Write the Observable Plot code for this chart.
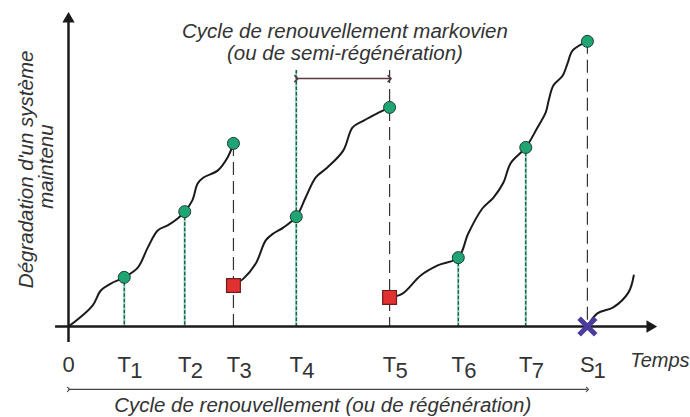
<!DOCTYPE html>
<html><head><meta charset="utf-8">
<script src="https://cdn.jsdelivr.net/npm/d3@7"></script>
<script src="https://cdn.jsdelivr.net/npm/@observablehq/plot@0.6"></script>
<style>body{margin:0;background:#fff}</style>
</head><body><div id="chart"></div>
<script>
// Inspection instants (time units) and tick labels
const tickLetters = ["T","T","T","T","T","T","T","S"];
const tickSubs    = ["1","2","3","4","5","6","7","1"];
const inspTimes   = [9.5, 19.8, 28.1, 38.8, 54.7, 66.4, 77.9, 88.4];
// Degradation level observed at each inspection
const inspLevels  = [15.7, 36.7, 58.5, 35.1, 70.0, 22.0, 57.2, 91.1];
// Action decided at each inspection
const inspAction  = ["none","none","repair","none","repair","none","none","replace"];
// Level after imperfect repair
const repairTimes  = [28.1, 54.7];
const repairLevels = [13.1, 9.3];
// Failure / replacement instant
const failureTimes = [88.4];
// Degradation path segments [time, level]
const seg1 = [[0,0],[4.1,6.7],[5.5,11.5],[7.2,13.7],[9.5,15.7],[11.8,18.8],[13.5,25.2],[15.2,30.7],[16.9,32.3],[18.6,34.5],[19.8,36.7],[21.1,40.3],[22.0,45.7],[23.0,47.6],[25.4,49.8],[27.1,54.0],[28.1,58.5]];
const seg2 = [[28.1,13.1],[29.8,15.3],[31.9,20.1],[33.6,27.5],[34.9,29.7],[36.6,31.6],[38.8,35.1],[40.4,41.2],[42.1,47.6],[44.1,50.8],[46.8,56.2],[48.4,63.6],[50.3,65.8],[52.6,68.1],[54.7,70.0]];
const seg3 = [[54.7,9.3],[56.9,10.5],[60.0,16.3],[62.9,19.5],[66.4,22.0],[68.1,29.7],[70.5,37.7],[72.4,41.2],[74.1,46.0],[75.3,52.1],[77.9,57.2],[79.9,63.6],[81.3,68.4],[81.8,72.2],[82.6,77.0],[84.2,80.2],[85.0,84.0],[85.9,88.2],[88.4,91.1]];
const seg4 = [[88.4,0],[90.1,4.2],[92.8,6.1],[95.4,10.9],[96.3,16.3]];
// Markov renewal cycle: between inspections index 3 and 4 (T4 -> T5)
const markovFrom = 3, markovTo = 4, markovLevel = 79.2, markovTop = 81.8;
// Renewal cycle: from 0 to S1
const renewalStart = 0, renewalEnd = 88.4, renewalLevel = -20.1;

const path = [seg1, seg2, seg3, seg4].flatMap((s, i) => s.map(([t, d]) => ({t, d, seg: i})));
const insp = inspTimes.map((t, i) => ({
  t, d: inspLevels[i], action: inspAction[i], letter: tickLetters[i], sub: tickSubs[i],
  top: (i === markovFrom || i === markovTo) ? markovTop : inspLevels[i]
}));
const repairs = repairTimes.map((t, i) => ({t, d: repairLevels[i]}));
const fails = failureTimes.map(t => ({t, d: 0}));

const FONT = "'Liberation Sans', Arial, Helvetica, sans-serif";
const plain = insp.filter(d => d.action === "none");
const acted = insp.filter(d => d.action !== "none");
const IT = 20.5;

const chart = Plot.plot({
  width: 690, height: 417,
  marginLeft: 68, marginRight: 35, marginTop: 13, marginBottom: 91,
  x: {domain: [0, 100], axis: null},
  y: {domain: [0, 100], axis: null},
  style: {background: "#fff", fontFamily: FONT},
  marks: [
    // inspection lines without action: teal underlay + dark dashes
    Plot.ruleX(plain, {x: "t", y1: "top", y2: 0, stroke: "#86dcc2", strokeWidth: 2.2}),
    Plot.ruleX(plain, {x: "t", y1: "top", y2: 0, stroke: "#1f3530", strokeWidth: 1.1, strokeDasharray: "3.5,2"}),
    // inspection lines with maintenance action: long dashes
    Plot.ruleX(acted, {x: "t", y1: "top", y2: 0, stroke: "#333", strokeWidth: 1.2, strokeDasharray: "13,6"}),
    // degradation path
    Plot.line(path, {x: "t", y: "d", z: "seg", curve: "catmull-rom", stroke: "#1a1a1a", strokeWidth: 2}),
    // axes
    Plot.ruleX([0], {x: 0, y1: -5.1, y2: 99, stroke: "#1a1a1a", strokeWidth: 2.5}),
    Plot.ruleY([0], {y: 0, x1: -2.2, x2: 99, stroke: "#1a1a1a", strokeWidth: 2.5}),
    Plot.dot([0], {x: 0, y: 100, symbol: "triangle", r: 3.6, fill: "#1a1a1a", stroke: "#1a1a1a", dy: 5.5}),
    Plot.dot([0], {x: 100, y: 0, symbol: "triangle", r: 3.6, fill: "#1a1a1a", stroke: "#1a1a1a", rotate: 90, dx: -5.5}),
    // markov renewal bracket
    Plot.link([0], {x1: inspTimes[markovFrom], x2: inspTimes[markovTo], y1: markovLevel, y2: markovLevel,
      stroke: "#5a3a3a", strokeWidth: 1.5, markerStart: "arrow", markerEnd: "arrow"}),
    // renewal cycle arrow
    Plot.link([0], {x1: renewalStart, x2: renewalEnd, y1: renewalLevel, y2: renewalLevel,
      stroke: "#444", strokeWidth: 1.1, markerStart: "arrow", markerEnd: "arrow"}),
    // inspection points
    Plot.dot(insp, {x: "t", y: "d", r: 6, fill: "#1fa574", stroke: "#1d3d33", strokeWidth: 1}),
    // levels after repair
    Plot.dot(repairs, {x: "t", y: "d", symbol: "square", r: 7.8, fill: "#e23131", stroke: "#6e1b1b", strokeWidth: 1.2}),
    // failure
    Plot.dot(fails, {x: "t", y: "d", symbol: "times", r: 7.6, stroke: "#4a3c9c", strokeWidth: 5}),
    // tick labels
    Plot.text([0], {x: 0, y: -14.4, text: () => "0", lineAnchor: "bottom", fontSize: 22, fill: "#333"}),
    Plot.text(insp, {x: "t", y: -14.4, text: "letter", lineAnchor: "bottom", fontSize: 22, fill: "#333"}),
    Plot.text(insp, {x: "t", y: -14.4, text: "sub", lineAnchor: "bottom", textAnchor: "start", dx: 6, dy: 6, fontSize: 22, fill: "#333"}),
    Plot.text([0], {x: 95.7, y: -12.8, text: () => "Temps", lineAnchor: "bottom", textAnchor: "start", fontSize: 20, fontStyle: "italic", fill: "#333"}),
    // annotations
    Plot.text([0], {x: 47.1, y: 92.2, text: () => "Cycle de renouvellement markovien", lineAnchor: "bottom", fontSize: IT, fontStyle: "italic", fill: "#333"}),
    Plot.text([0], {x: 47.1, y: 85.0, text: () => "(ou de semi-régénération)", lineAnchor: "bottom", fontSize: IT, fontStyle: "italic", fill: "#333"}),
    Plot.text([0], {x: 43.3, y: -27.2, text: () => "Cycle de renouvellement (ou de régénération)", lineAnchor: "bottom", fontSize: IT, fontStyle: "italic", fill: "#333"}),
    Plot.text([0], {x: -6.1, y: 50.2, text: () => "Dégradation d'un système", rotate: -90, lineAnchor: "bottom", fontSize: IT, fontStyle: "italic", fill: "#333"}),
    Plot.text([0], {x: -2.7, y: 51.1, text: () => "maintenu", rotate: -90, lineAnchor: "bottom", fontSize: IT, fontStyle: "italic", fill: "#333"})
  ]
});
document.getElementById("chart").append(chart);
</script>
</body></html>
